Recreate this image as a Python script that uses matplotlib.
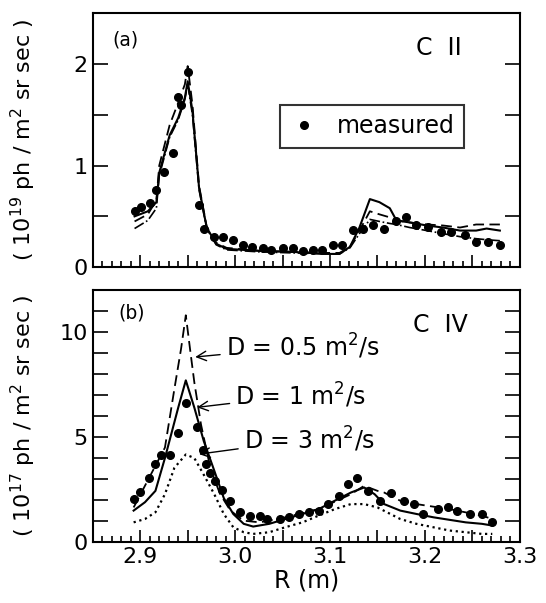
import numpy as np
import matplotlib
matplotlib.use("Agg")
import matplotlib.pyplot as plt
from matplotlib.ticker import MultipleLocator, FuncFormatter

plt.rcParams['font.family'] = ['DejaVu Sans']

# ---- panel (a): C II ----
r_meas_a = [2.894, 2.901, 2.910, 2.917, 2.925, 2.934, 2.940, 2.943, 2.950, 2.962, 2.967,
            2.978, 2.987, 2.998, 3.008, 3.018, 3.029, 3.038, 3.050, 3.061, 3.071, 3.082,
            3.092, 3.103, 3.113, 3.124, 3.135, 3.145, 3.157, 3.170, 3.180, 3.191, 3.203,
            3.217, 3.228, 3.242, 3.254, 3.267, 3.279]
i_meas_a = [0.55, 0.59, 0.63, 0.76, 0.94, 1.12, 1.68, 1.60, 1.92, 0.61, 0.38,
            0.30, 0.30, 0.27, 0.22, 0.20, 0.19, 0.17, 0.19, 0.19, 0.16, 0.17,
            0.17, 0.22, 0.22, 0.37, 0.38, 0.41, 0.38, 0.45, 0.49, 0.41, 0.40,
            0.35, 0.35, 0.32, 0.25, 0.25, 0.22]

r_mod_a = [2.894, 2.908, 2.917, 2.920, 2.931, 2.940, 2.947, 2.950, 2.955, 2.962, 2.970,
           2.980, 2.991, 3.026, 3.061, 3.096, 3.110, 3.121, 3.131, 3.142, 3.152, 3.163,
           3.170, 3.184, 3.202, 3.219, 3.237, 3.254, 3.265, 3.279]
i_d1_a = [0.50, 0.55, 0.64, 0.93, 1.30, 1.47, 1.67, 1.83, 1.54, 0.78, 0.39,
          0.23, 0.18, 0.16, 0.15, 0.13, 0.13, 0.20, 0.39, 0.67, 0.64, 0.58,
          0.46, 0.44, 0.41, 0.39, 0.36, 0.36, 0.38, 0.36]
i_d05_a = [0.45, 0.52, 0.66, 1.00, 1.40, 1.62, 1.80, 1.98, 1.60, 0.80, 0.40,
           0.24, 0.19, 0.16, 0.15, 0.14, 0.14, 0.20, 0.36, 0.55, 0.52, 0.49,
           0.46, 0.44, 0.42, 0.41, 0.39, 0.42, 0.42, 0.42]
i_d3_a = [0.38, 0.46, 0.58, 0.90, 1.28, 1.45, 1.65, 1.80, 1.50, 0.76, 0.38,
          0.22, 0.17, 0.15, 0.14, 0.13, 0.13, 0.19, 0.33, 0.47, 0.45, 0.43,
          0.42, 0.39, 0.36, 0.33, 0.30, 0.28, 0.27, 0.26]

# ---- panel (b): C IV ----
r_meas_b = [2.893, 2.900, 2.909, 2.916, 2.922, 2.931, 2.940, 2.948, 2.960, 2.966, 2.969,
            2.974, 2.979, 2.986, 2.995, 3.005, 3.016, 3.026, 3.034, 3.047, 3.057, 3.067,
            3.078, 3.088, 3.098, 3.109, 3.119, 3.128, 3.140, 3.153, 3.164, 3.178, 3.188,
            3.198, 3.214, 3.224, 3.234, 3.247, 3.260, 3.271]
i_meas_b = [2.05, 2.4, 3.07, 3.7, 4.17, 4.17, 5.2, 6.6, 5.5, 4.4, 3.7,
            3.3, 2.9, 2.5, 1.97, 1.42, 1.26, 1.26, 1.1, 1.1, 1.2, 1.34,
            1.42, 1.5, 1.81, 2.2, 2.76, 3.07, 2.44, 1.97, 2.36, 1.97, 1.81,
            1.34, 1.57, 1.65, 1.5, 1.34, 1.34, 0.94]

r_d1_b = [2.893, 2.905, 2.916, 2.926, 2.940, 2.948, 2.957, 2.967, 2.978, 2.988, 2.998,
          3.009, 3.019, 3.036, 3.053, 3.071, 3.088, 3.105, 3.122, 3.136, 3.147, 3.157,
          3.174, 3.191, 3.209, 3.226, 3.243, 3.260, 3.271]
i_d1_b = [1.5, 1.9, 2.44, 4.0, 6.4, 7.7, 6.4, 4.8, 3.4, 2.1, 1.34,
          0.87, 0.74, 0.87, 1.1, 1.34, 1.57, 1.97, 2.36, 2.6, 2.28, 1.81,
          1.5, 1.34, 1.18, 1.06, 0.94, 0.87, 0.79]

r_d05_b = [2.893, 2.926, 2.936, 2.943, 2.948, 2.953, 2.957, 2.964, 2.974, 2.984, 2.995,
           3.009, 3.026, 3.053, 3.088, 3.122, 3.136, 3.150, 3.157, 3.174, 3.191, 3.226,
           3.260, 3.271]
i_d05_b = [1.65, 4.5, 7.3, 9.2, 10.8, 9.0, 7.6, 5.6, 3.5, 2.3, 1.5,
           1.02, 0.94, 1.18, 1.57, 2.28, 2.68, 2.44, 2.36, 1.97, 1.81, 1.57,
           1.26, 1.1]

r_d3_b = [2.893, 2.905, 2.916, 2.926, 2.936, 2.948, 2.957, 2.967, 2.978, 2.988, 2.998,
          3.009, 3.019, 3.036, 3.053, 3.071, 3.088, 3.105, 3.122, 3.136, 3.150, 3.174,
          3.191, 3.226, 3.260, 3.271]
i_d3_b = [0.94, 1.1, 1.42, 2.28, 3.54, 4.17, 4.0, 3.2, 2.28, 1.34, 0.71,
          0.47, 0.39, 0.47, 0.71, 0.94, 1.26, 1.57, 1.81, 1.81, 1.65, 1.1,
          0.87, 0.55, 0.39, 0.39]

fig = plt.figure(figsize=(5.46, 6.03), dpi=100)
ax1 = fig.add_axes([0.170, 0.557, 0.782, 0.421])
ax2 = fig.add_axes([0.170, 0.101, 0.782, 0.418])

lw = 1.5
ax1.plot(r_mod_a, i_d1_a, '-', color='black', lw=lw)
ax1.plot(r_mod_a, i_d05_a, '--', color='black', lw=1.3, dashes=(6, 3))
ax1.plot(r_mod_a, i_d3_a, '-.', color='black', lw=1.2)
ax1.plot(r_meas_a, i_meas_a, 'o', color='black', ms=5.5, label='measured')

ax2.plot(r_d1_b, i_d1_b, '-', color='black', lw=lw)
ax2.plot(r_d05_b, i_d05_b, '--', color='black', lw=1.3, dashes=(6, 3))
ax2.plot(r_d3_b, i_d3_b, ':', color='black', lw=1.6)
ax2.plot(r_meas_b, i_meas_b, 'o', color='black', ms=5.5)

fmt = FuncFormatter(lambda v, p: f'{v:.1f}' if abs(round(v * 10) - v * 10) < 1e-6 else '')
for ax in (ax1, ax2):
    ax.set_xlim(2.85, 3.3)
    ax.xaxis.set_major_locator(MultipleLocator(0.05))
    ax.xaxis.set_minor_locator(MultipleLocator(0.01))
    ax.tick_params(which='both', direction='in', right=True, top=False,
                   labelsize=16, width=1.2)
    ax.tick_params(axis='x', which='major', length=9)
    ax.tick_params(axis='x', which='minor', length=4)
    ax.tick_params(axis='y', which='both', length=11)
    for s in ax.spines.values():
        s.set_linewidth(1.5)

ax1.xaxis.set_major_formatter(FuncFormatter(lambda v, p: ''))
ax2.xaxis.set_major_formatter(fmt)

ax1.set_ylim(0, 2.5)
ax1.yaxis.set_major_locator(MultipleLocator(1))
ax1.yaxis.set_minor_locator(MultipleLocator(0.5))
ax2.set_ylim(0, 12)
ax2.yaxis.set_major_locator(MultipleLocator(5))
ax2.yaxis.set_minor_locator(MultipleLocator(1))

ax1.set_ylabel('( 10$^{19}$ ph / m$^2$ sr sec )', fontsize=16)
ax2.set_ylabel('( 10$^{17}$ ph / m$^2$ sr sec )', fontsize=16)
ax1.yaxis.set_label_coords(-0.128, 0.5)
ax2.yaxis.set_label_coords(-0.128, 0.5)
ax2.set_xlabel('R (m)', fontsize=17, labelpad=1)

ax1.text(0.045, 0.895, '(a)', transform=ax1.transAxes, fontsize=13.5, va='center')
ax1.text(0.81, 0.862, 'C  II', transform=ax1.transAxes, fontsize=17, va='center', ha='center')
ax2.text(0.06, 0.909, '(b)', transform=ax2.transAxes, fontsize=13.5, va='center')
ax2.text(0.815, 0.861, 'C  IV', transform=ax2.transAxes, fontsize=17, va='center', ha='center')

leg = ax1.legend(loc='center', bbox_to_anchor=(0.655, 0.555), fontsize=17, frameon=True,
                 fancybox=False, edgecolor='black', handletextpad=0.8, borderpad=0.4,
                 handlelength=1.2)
leg.get_frame().set_linewidth(1.5)

arrow = dict(arrowstyle='->', color='black', lw=1.0)
ax2.annotate('D = 0.5 m$^2$/s', xy=(2.955, 8.8), xytext=(2.99, 9.3), fontsize=17,
             va='center', arrowprops=arrow)
ax2.annotate('D = 1 m$^2$/s', xy=(2.957, 6.4), xytext=(3.0, 7.0), fontsize=17,
             va='center', arrowprops=arrow)
ax2.annotate('D = 3 m$^2$/s', xy=(2.959, 4.17), xytext=(3.009, 4.9), fontsize=17,
             va='center', arrowprops=arrow)

fig.savefig('out.png', dpi=100)
